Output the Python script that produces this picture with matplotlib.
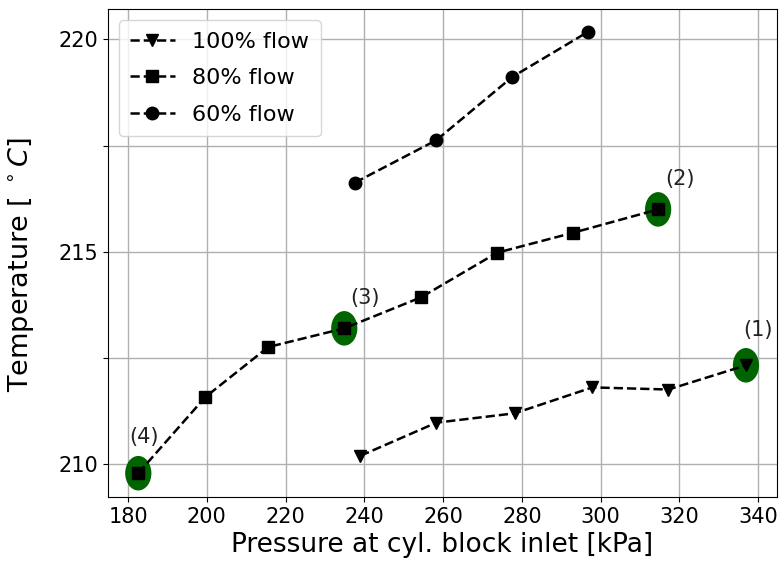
import matplotlib
matplotlib.use("Agg")
import matplotlib.pyplot as plt
from matplotlib.patches import Ellipse

# Measured operating points (pressure in kPa, temperature in degC)
p_100 = [239.0, 258.3, 278.2, 297.9, 317.2, 336.9]
t_100 = [210.20, 210.98, 211.20, 211.81, 211.76, 212.33]

p_80 = [182.6, 199.6, 215.6, 234.9, 254.4, 273.7, 293.0, 314.6]
t_80 = [209.79, 211.58, 212.76, 213.20, 213.93, 214.98, 215.45, 216.00]

p_60 = [237.6, 258.3, 277.6, 296.8]
t_60 = [216.63, 217.63, 219.12, 220.18]

# Highlighted points and their labels
hl_p = [336.9, 314.6, 234.9, 182.6]
hl_t = [212.33, 216.00, 213.20, 209.79]
hl_labels = ["(1)", "(2)", "(3)", "(4)"]
# label offsets from the point, in points
hl_offsets = [(-2, 18), (5, 14.5), (4.5, 15), (-6.5, 19)]

fig = plt.figure(figsize=(7.79, 5.71), dpi=100)
ax = fig.add_axes([0.1386, 0.1296, 0.9970 - 0.1386, 0.9837 - 0.1296])

for x, y in zip(hl_p, hl_t):
    ax.add_patch(Ellipse((x, y), width=6.3, height=0.78, color="#006400", zorder=2))

ax.plot(p_100, t_100, "k--v", lw=1.8, ms=9, label="100% flow", zorder=3)
ax.plot(p_80, t_80, "k--s", lw=1.8, ms=8, label="80% flow", zorder=3)
ax.plot(p_60, t_60, "k--o", lw=1.8, ms=9, label="60% flow", zorder=3)

for x, y, s, off in zip(hl_p, hl_t, hl_labels, hl_offsets):
    ax.annotate(s, (x, y), xytext=off, textcoords="offset points",
                fontsize=15, ha="left", va="bottom", color="#222222")

ax.set_xlim(174.9, 344.7)
ax.set_ylim(209.23, 220.71)
ax.set_xticks(range(180, 341, 20))
ax.set_yticks([210, 212.5, 215, 217.5, 220])
ax.set_yticklabels(["210", "", "215", "", "220"])
ax.tick_params(labelsize=15)
ax.grid(True, color="#b0b0b0", lw=1)
ax.set_axisbelow(True)

ax.set_xlabel("Pressure at cyl. block inlet [kPa]", fontsize=19)
ax.set_ylabel(r"Temperature [ $^\circ C$]", fontsize=19.5)
ax.yaxis.set_label_coords(-0.108, 0.476)
ax.legend(loc="upper left", fontsize=16, labelspacing=0.75, borderpad=0.5)

fig.savefig("out.png", dpi=100)
